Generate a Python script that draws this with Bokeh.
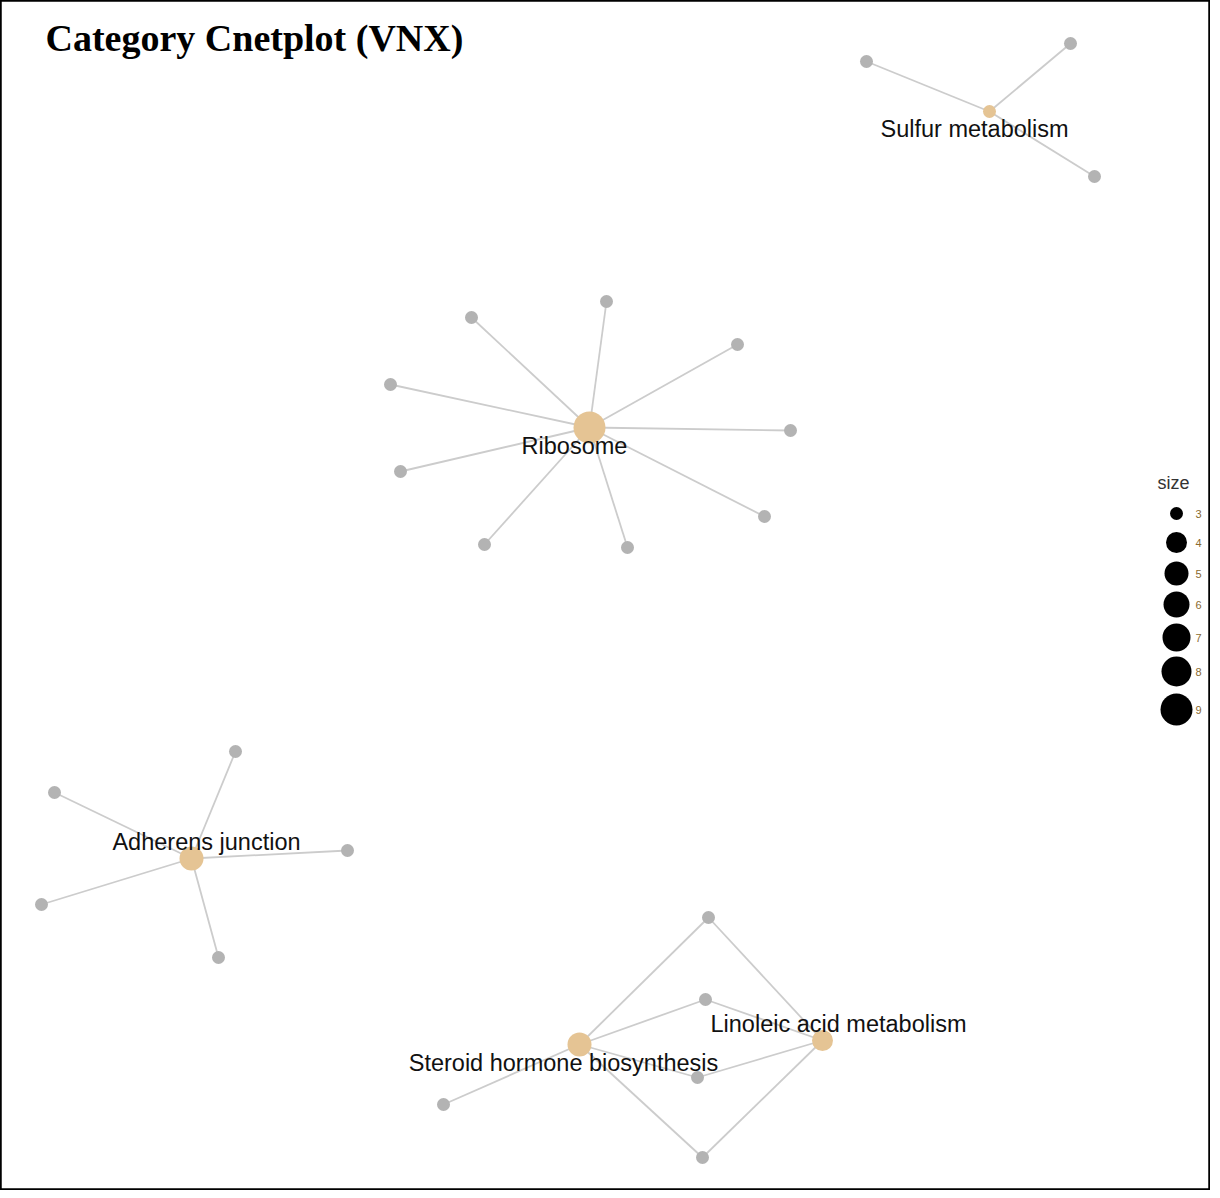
from bokeh.plotting import figure
from bokeh.models import Range1d, ColumnDataSource
from bokeh.core.properties import value
from bokeh.embed import file_html
from bokeh.resources import INLINE

# ---- data: network layout (layout coordinates) ----
categories = ["Sulfur metabolism", "Ribosome", "Adherens junction",
              "Steroid hormone biosynthesis", "Linoleic acid metabolism"]
cat_x = [997, 597, 199, 587, 830]
cat_y = [119, 435, 866, 1052, 1048]
cat_size = [3, 9, 5, 5, 4]

genes = ["g1", "g2", "g3",
         "g4", "g5", "g6", "g7", "g8", "g9", "g10", "g11", "g12",
         "g13", "g14", "g15", "g16", "g17",
         "g18", "g19", "g20", "g21", "g22"]
gene_x = [874, 1078, 1102,
          479, 614, 745, 398, 798, 408, 772, 492, 635,
          243, 62, 355, 49, 226,
          716, 713, 705, 451, 710]
gene_y = [69, 51, 184,
          325, 309, 352, 392, 438, 479, 524, 552, 555,
          759, 800, 858, 912, 965,
          925, 1007, 1085, 1112, 1165]

edge_cat = (["Sulfur metabolism"] * 3 + ["Ribosome"] * 9 + ["Adherens junction"] * 5
            + ["Steroid hormone biosynthesis"] * 5 + ["Linoleic acid metabolism"] * 4)
edge_gene = (["g1", "g2", "g3"]
             + ["g4", "g5", "g6", "g7", "g8", "g9", "g10", "g11", "g12"]
             + ["g13", "g14", "g15", "g16", "g17"]
             + ["g18", "g19", "g20", "g21", "g22"]
             + ["g18", "g19", "g20", "g22"])

legend_sizes = [3, 4, 5, 6, 7, 8, 9]
legend_labels = ["3", "4", "5", "6", "7", "8", "9"]

# ---- styles ----
label_dx = [-15, -15, 15, -16, 16]
label_dy = [17, 18, -17, 18, -17]
size_px = {3: 13, 4: 21, 5: 24, 6: 26, 7: 28, 8: 30, 9: 32}
cat_color = "#E5C494"
gene_color = "#B3B3B3"
edge_color = "#CCCCCC"

W, H = 1210, 1190
p = figure(width=W, height=H, output_backend="svg", toolbar_location=None,
           x_range=Range1d(8, 8 + W), y_range=Range1d(8 + H, 8),
           min_border=0, min_border_left=0, min_border_right=0,
           min_border_top=0, min_border_bottom=0)
p.axis.visible = False
p.grid.visible = False
p.outline_line_color = "black"
p.outline_line_width = 2.5
p.background_fill_color = "white"

cpos = dict(zip(categories, zip(cat_x, cat_y)))
gpos = dict(zip(genes, zip(gene_x, gene_y)))
xs = [[cpos[c][0], gpos[g][0]] for c, g in zip(edge_cat, edge_gene)]
ys = [[cpos[c][1], gpos[g][1]] for c, g in zip(edge_cat, edge_gene)]
p.multi_line(xs, ys, line_color=edge_color, line_width=1.8)

p.scatter(gene_x, gene_y, size=13, fill_color=gene_color, line_color=None)
p.scatter(cat_x, cat_y, size=[size_px[s] for s in cat_size],
          fill_color=cat_color, line_color=None)

lsrc = ColumnDataSource(dict(
    x=[x + dx for x, dx in zip(cat_x, label_dx)],
    y=[y + dy for y, dy in zip(cat_y, label_dy)],
    t=categories))
p.text("x", "y", text="t", source=lsrc, text_align="center", text_baseline="middle",
       text_font=value("Liberation Sans"), text_font_size="23.5px", text_color="#111111")

# title
p.text([53], [45], text=["Category Cnetplot (VNX)"], text_align="left",
       text_baseline="middle", text_font=value("Liberation Serif"),
       text_font_size="38px", text_font_style="bold", text_color="black")

# size legend
leg_y = [521, 550, 581, 612, 645, 679, 717]
p.text([1181], [490], text=["size"], text_align="center", text_baseline="middle",
       text_font=value("Liberation Sans"), text_font_size="18px", text_color="#333333")
p.scatter([1184] * len(legend_sizes), leg_y, size=[size_px[s] for s in legend_sizes],
          fill_color="black", line_color=None)
p.text([1203] * len(legend_labels), leg_y, text=legend_labels, text_align="left",
       text_baseline="middle", text_font=value("Liberation Sans"),
       text_font_size="11px", text_color="#8a6a30")

open("out.html", "w").write(file_html(p, INLINE))
